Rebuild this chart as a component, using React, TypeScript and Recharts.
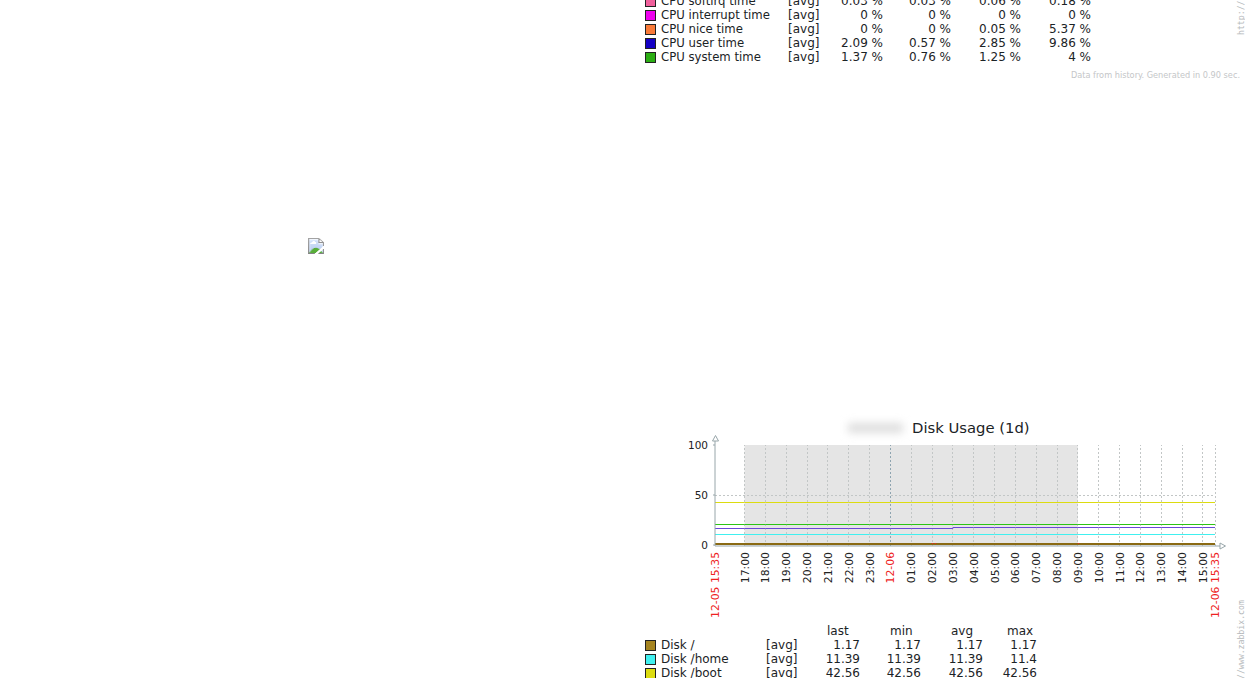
import { Line, LineChart, ReferenceArea, ReferenceLine, XAxis, YAxis } from 'recharts';

const FONT = '"DejaVu Sans", sans-serif';

// x axis: minutes since 12-05 15:35
const tickMinutes = [
  0, 85, 145, 205, 265, 325, 385, 445, 505, 565, 625, 685, 745, 805, 865, 925, 985, 1045, 1105, 1165, 1225, 1285, 1345,
  1405, 1440,
];
const tickLabels = [
  '12-05 15:35', '17:00', '18:00', '19:00', '20:00', '21:00', '22:00', '23:00', '12-06', '01:00', '02:00', '03:00',
  '04:00', '05:00', '06:00', '07:00', '08:00', '09:00', '10:00', '11:00', '12:00', '13:00', '14:00', '15:00',
  '12-06 15:35',
];
const redLabels = ['12-05 15:35', '12-06', '12-06 15:35'];

// values as read off the plotted rows, not the legend
const diskRoot = [1, 1, 1, 1, 1, 1, 1, 1, 1, 1, 1, 1, 1, 1, 1, 1, 1, 1, 1, 1, 1, 1, 1, 1, 1];
const diskHome = [10.5, 10.5, 10.5, 10.5, 10.5, 10.5, 10.5, 10.5, 10.5, 10.5, 10.5, 10.5, 10.5, 10.5, 10.5, 10.5, 10.5, 10.5, 10.5, 10.5, 10.5, 10.5, 10.5, 10.5, 10.5];
const diskBoot = [42.5, 42.5, 42.5, 42.5, 42.5, 42.5, 42.5, 42.5, 42.5, 42.5, 42.5, 42.5, 42.5, 42.5, 42.5, 42.5, 42.5, 42.5, 42.5, 42.5, 42.5, 42.5, 42.5, 42.5, 42.5];
const diskGreen = [20.5, 20.5, 20.5, 20.5, 20.5, 20.5, 20.5, 20.5, 20.5, 20.5, 20.5, 20.5, 20.5, 20.5, 20.5, 20.5, 20.5, 20.5, 20.5, 20.5, 20.5, 20.5, 20.5, 20.5, 20.5];
const diskPurple = [16.5, 16.5, 16.5, 16.5, 16.5, 16.5, 16.5, 16.5, 16.5, 16.5, 16.5, 17.5, 17.5, 17.5, 17.5, 17.5, 17.5, 17.5, 17.5, 17.5, 17.5, 17.5, 17.5, 17.5, 17.5];

const chartData = tickMinutes.map((minute, i) => ({
  minute,
  root: diskRoot[i],
  home: diskHome[i],
  boot: diskBoot[i],
  green: diskGreen[i],
  purple: diskPurple[i],
}));

// the little red blips sitting on the brown line
const redMinutes = [625, 628, 631, 633, 636, 640, 1045, 1048];
const redValues = [1.5, 1.5, null, 1.5, 1.5, null, 1.5, 1.5];
const redData = redMinutes.map((minute, i) => ({ minute, red: redValues[i] }));

const yTicks = [0, 50, 100];

const cpuNames = ['CPU softirq time', 'CPU interrupt time', 'CPU nice time', 'CPU user time', 'CPU system time'];
const cpuColors = ['#f0609c', '#f000f0', '#f97a38', '#1400c4', '#2cae14'];
const cpuLast = ['0.03 %', '0 %', '0 %', '2.09 %', '1.37 %'];
const cpuMin = ['0.03 %', '0 %', '0 %', '0.57 %', '0.76 %'];
const cpuAvg = ['0.06 %', '0 %', '0.05 %', '2.85 %', '1.25 %'];
const cpuMax = ['0.18 %', '0 %', '5.37 %', '9.86 %', '4 %'];

const diskNames = ['Disk /', 'Disk /home', 'Disk /boot'];
const diskColors = ['#a58420', '#40f0f0', '#dcdc10'];
const diskLast = ['1.17', '11.39', '42.56'];
const diskMin = ['1.17', '11.39', '42.56'];
const diskAvg = ['1.17', '11.39', '42.56'];
const diskMax = ['1.17', '11.4', '42.56'];

function Txt({ x, y, right, color = '#1b2326', size = 12, stretch, children }: any) {
  const pos = right !== undefined ? { right: 1245 - right } : { left: x };
  return (
    <div
      style={{
        position: 'absolute',
        top: y - 8,
        height: 16,
        lineHeight: '16px',
        whiteSpace: 'nowrap',
        fontFamily: FONT,
        fontSize: size,
        fontStretch: stretch,
        color,
        ...pos,
      }}
    >
      {children}
    </div>
  );
}

function Swatch({ y, color }: any) {
  return (
    <div
      style={{
        position: 'absolute',
        left: 645,
        top: y - 5,
        width: 9,
        height: 9,
        background: color,
        border: '1px solid #222',
      }}
    />
  );
}

function SideText({ x, y, children }: any) {
  return (
    <div
      style={{
        position: 'absolute',
        left: x,
        top: y,
        transform: 'rotate(-90deg)',
        transformOrigin: '0 0',
        whiteSpace: 'nowrap',
        fontFamily: '"DejaVu Sans Mono", monospace',
        fontSize: 8.2,
        lineHeight: '10px',
        color: '#b4b8ba',
      }}
    >
      {children}
    </div>
  );
}

function TimeTick({ x, y, index }: any) {
  const label = tickLabels[index];
  return (
    <text
      transform={`translate(${x + 4},${y - 2}) rotate(-90)`}
      textAnchor="end"
      fontFamily={FONT}
      fontSize={10.8}
      fill={redLabels.includes(label) ? '#ee2222' : '#222'}
    >
      {label}
    </text>
  );
}

export default function App() {
  const timeGrid = tickMinutes.filter((m) => m !== 0 && m !== 505);
  return (
    <div style={{ position: 'absolute', left: 0, top: 0, width: 1245, height: 678, overflow: 'hidden', background: '#fff' }}>
      <img style={{ position: 'absolute', left: 308, top: 238 }} src="missing-graph.png" />

      {cpuNames.map((name, i) => {
        const y = 1 + i * 14;
        return (
          <div key={name}>
            <Swatch y={y} color={cpuColors[i]} />
            <Txt x={661} y={y} size={11.7}>{name}</Txt>
            <Txt x={788} y={y}>[avg]</Txt>
            <Txt right={883} y={y}>{cpuLast[i]}</Txt>
            <Txt right={951} y={y}>{cpuMin[i]}</Txt>
            <Txt right={1021} y={y}>{cpuAvg[i]}</Txt>
            <Txt right={1091} y={y}>{cpuMax[i]}</Txt>
          </div>
        );
      })}
      <Txt right={1240} y={75} color="#c4c6c8" size={9.1} stretch="condensed">Data from history. Generated in 0.90 sec.</Txt>
      <SideText x={1236} y={35}>http://</SideText>

      <div
        style={{
          position: 'absolute',
          left: 848,
          top: 423,
          width: 55,
          height: 10,
          background: '#dedede',
          filter: 'blur(4px)',
        }}
      />
      <Txt x={912} y={428} size={14.8}>Disk Usage (1d)</Txt>

      <LineChart
        width={1245}
        height={678}
        data={chartData}
        margin={{ top: 445, right: 30, bottom: 60, left: 675 }}
        style={{ position: 'absolute', left: 0, top: 0 }}
      >
        <ReferenceArea x1={85} x2={1045} y1={-1} y2={100} fill="#e5e5e5" fillOpacity={1} stroke="none" />
        {timeGrid.map((m) => (
          <ReferenceLine key={m} x={m} stroke="#c2c6c6" strokeDasharray="2 2" shapeRendering="crispEdges" />
        ))}
        <ReferenceLine y={50} stroke="#c2c6c6" strokeDasharray="2 2" shapeRendering="crispEdges" />
        <ReferenceLine x={505} stroke="#8ea4b0" strokeDasharray="2 2" shapeRendering="crispEdges" />
        <XAxis
          type="number"
          dataKey="minute"
          domain={[0, 1440]}
          ticks={tickMinutes}
          interval={0}
          height={72}
          tick={<TimeTick />}
          axisLine={{ stroke: '#98a6aa' }}
          tickLine={false}
        />
        <YAxis
          type="number"
          domain={[-1, 100]}
          ticks={yTicks}
          width={40}
          tick={{ fontFamily: FONT, fontSize: 10.5, fill: '#222' }}
          axisLine={{ stroke: '#98a6aa' }}
          tickLine={{ stroke: '#98a6aa' }}
          tickSize={2}
          tickMargin={5}
        />
        <Line dataKey="boot" stroke="#dcdc10" strokeWidth={1} dot={false} isAnimationActive={false} />
        <Line dataKey="green" stroke="#2cc414" strokeWidth={1} dot={false} isAnimationActive={false} />
        <Line dataKey="purple" type="stepAfter" stroke="#6a48d8" strokeWidth={1} dot={false} isAnimationActive={false} />
        <Line dataKey="home" stroke="#40f0f0" strokeWidth={1} dot={false} isAnimationActive={false} />
        <Line dataKey="root" stroke="#8a6a14" strokeWidth={2} dot={false} isAnimationActive={false} />
        <Line data={redData} dataKey="red" stroke="#ee2222" strokeWidth={1} dot={false} isAnimationActive={false} />
      </LineChart>

      <svg width={1245} height={678} style={{ position: 'absolute', left: 0, top: 0, pointerEvents: 'none' }}>
        <line x1={715} y1={441} x2={715} y2={445} stroke="#98a6aa" />
        <polygon points="712.5,441 715.5,435.5 718.5,441" fill="#fff" stroke="#98a6aa" />
        <line x1={1215} y1={546} x2={1220} y2={546} stroke="#98a6aa" />
        <polygon points="1220,543 1225.5,546 1220,549" fill="#fff" stroke="#98a6aa" />
      </svg>

      <Txt x={827} y={631}>last</Txt>
      <Txt x={890} y={631}>min</Txt>
      <Txt x={951} y={631}>avg</Txt>
      <Txt x={1007} y={631}>max</Txt>
      {diskNames.map((name, i) => {
        const y = 645 + i * 14;
        return (
          <div key={name}>
            <Swatch y={y} color={diskColors[i]} />
            <Txt x={661} y={y}>{name}</Txt>
            <Txt x={766} y={y}>[avg]</Txt>
            <Txt right={860} y={y}>{diskLast[i]}</Txt>
            <Txt right={921} y={y}>{diskMin[i]}</Txt>
            <Txt right={983} y={y}>{diskAvg[i]}</Txt>
            <Txt right={1037} y={y}>{diskMax[i]}</Txt>
          </div>
        );
      })}
      <SideText x={1236} y={679}>//www.zabbix.com</SideText>
    </div>
  );
}
